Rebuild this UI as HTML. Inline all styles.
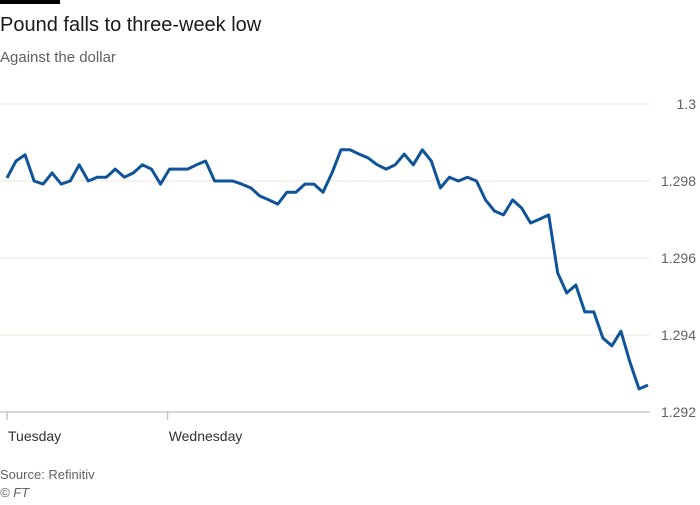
<!DOCTYPE html>
<html><head><meta charset="utf-8"><style>
body{margin:0;background:#fff;width:700px;height:500px;overflow:hidden;font-family:"Liberation Sans",sans-serif;}
</style></head><body>
<svg width="700" height="500">
<rect x="0" y="0" width="60" height="4" fill="#000"/>
<text x="0" y="31" font-size="20" fill="#1a1a1a">Pound falls to three-week low</text>
<text x="0" y="62" font-size="15" fill="#66605c">Against the dollar</text>
<g id="grid"></g><g id="xaxis"></g>
<path id="line" fill="none" stroke="#0f5499" stroke-width="3" stroke-linejoin="round"/>
<text x="0" y="479" font-size="13" fill="#66605c">Source: Refinitiv</text>
<text x="0" y="497" font-size="13" font-style="italic" fill="#66605c">© FT</text>
</svg>
<script>
const values=[1.29808,1.29852,1.29868,1.298,1.29792,1.29821,1.29792,1.298,1.29842,1.298,1.2981,1.2981,1.29831,1.2981,1.29821,1.29842,1.29831,1.29792,1.29831,1.29831,1.29831,1.29842,1.29852,1.298,1.298,1.298,1.29792,1.29782,1.29761,1.29751,1.2974,1.29771,1.29771,1.29792,1.29792,1.29771,1.29821,1.29881,1.29881,1.2987,1.2986,1.29842,1.29831,1.29842,1.2987,1.29842,1.29881,1.29852,1.29782,1.2981,1.298,1.2981,1.298,1.29751,1.29722,1.29712,1.29751,1.2973,1.29691,1.29701,1.29712,1.29561,1.29509,1.2953,1.2946,1.2946,1.29392,1.29372,1.2941,1.2933,1.2926,1.2927];
const yTicks=[1.292,1.294,1.296,1.298,1.3];
const yTickLabels=["1.292","1.294","1.296","1.298","1.3"];
const xTickIndex=[0,17.8];
const xTickLabels=["Tuesday","Wednesday"];
const ns="http://www.w3.org/2000/svg";
const x0=7,x1=648,yTop=104,yBot=412;
const xs=i=>x0+i*(x1-x0)/(values.length-1);
const ys=v=>yBot-(v-1.292)/(1.3-1.292)*(yBot-yTop);
const grid=document.getElementById('grid');
yTicks.forEach((t,i)=>{
 const l=document.createElementNS(ns,'line');
 l.setAttribute('x1',0);l.setAttribute('x2',650);l.setAttribute('y1',ys(t));l.setAttribute('y2',ys(t));
 l.setAttribute('stroke',i==0?'#b3b0ab':'#f2e5dc');l.setAttribute('stroke-width',1);
 
 
 grid.appendChild(l);
 const tx=document.createElementNS(ns,'text');
 tx.setAttribute('x',696);tx.setAttribute('y',ys(t)+5);tx.setAttribute('text-anchor','end');
 tx.setAttribute('font-size',14);tx.setAttribute('fill','#66605c');tx.textContent=yTickLabels[i];
 
 
 grid.appendChild(tx);
});
const xa=document.getElementById('xaxis');
xTickIndex.forEach((ix,i)=>{
 const l=document.createElementNS(ns,'line');
 l.setAttribute('x1',xs(ix));l.setAttribute('x2',xs(ix));l.setAttribute('y1',412);l.setAttribute('y2',420);
 l.setAttribute('stroke','#b3b0ab');
 
 
 xa.appendChild(l);
 const tx=document.createElementNS(ns,'text');
 tx.setAttribute('x',xs(ix)+1);tx.setAttribute('y',441);tx.setAttribute('font-size',14);tx.setAttribute('fill','#33302e');
 tx.textContent=xTickLabels[i];
 
 
 xa.appendChild(tx);
});
document.getElementById('line').setAttribute('d',values.map((v,i)=>(i?'L':'M')+xs(i).toFixed(1)+','+ys(v).toFixed(1)).join(''));
</script>
</body></html>
